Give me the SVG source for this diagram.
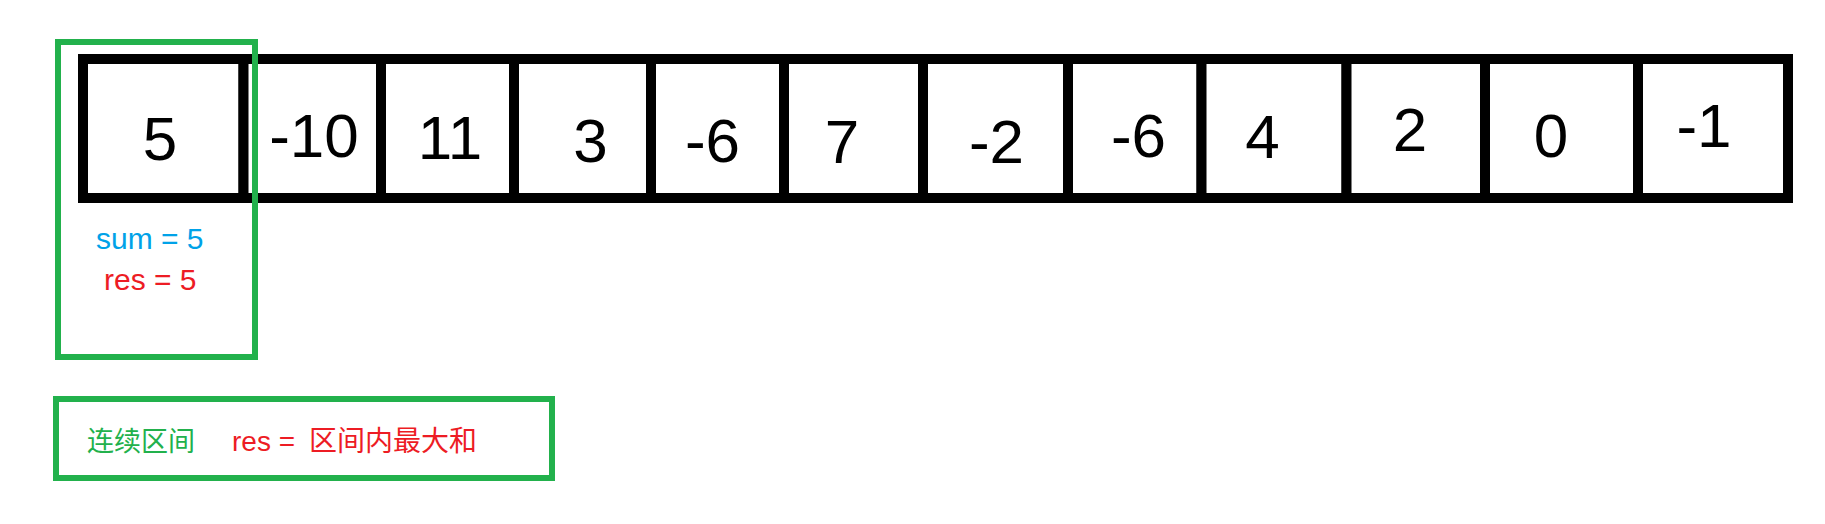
<svg xmlns="http://www.w3.org/2000/svg" width="1825" height="524" viewBox="0 0 1825 524">
<style>
.cell{fill:#fff;stroke:#000;stroke-width:10}
.num{font-family:"Liberation Sans",Arial,sans-serif;font-size:62px;fill:#000;text-anchor:middle}
.box{fill:none;stroke:#22B14C;stroke-width:6}
.lbl{font-family:"Liberation Sans","Noto Sans CJK SC",sans-serif}
</style>
<rect width="1825" height="524" fill="#fff"/>
<g id="array">
<g id="cell0"><rect class="cell" x="83" y="59" width="160.5" height="139"/><text class="num" x="160" y="160">5</text></g>
<g id="cell1"><rect class="cell" x="243.5" y="59" width="137.5" height="139"/><text class="num" x="314" y="157">-10</text></g>
<g id="cell2"><rect class="cell" x="381" y="59" width="133" height="139"/><text class="num" x="450" y="159">11</text></g>
<g id="cell3"><rect class="cell" x="514" y="59" width="137" height="139"/><text class="num" x="590.5" y="162">3</text></g>
<g id="cell4"><rect class="cell" x="651" y="59" width="133" height="139"/><text class="num" x="712.5" y="162">-6</text></g>
<g id="cell5"><rect class="cell" x="784" y="59" width="139" height="139"/><text class="num" x="842" y="163">7</text></g>
<g id="cell6"><rect class="cell" x="923" y="59" width="145" height="139"/><text class="num" x="996.5" y="163">-2</text></g>
<g id="cell7"><rect class="cell" x="1068" y="59" width="133.5" height="139"/><text class="num" x="1138.5" y="157">-6</text></g>
<g id="cell8"><rect class="cell" x="1201.5" y="59" width="145" height="139"/><text class="num" x="1262.5" y="158">4</text></g>
<g id="cell9"><rect class="cell" x="1346.5" y="59" width="138.5" height="139"/><text class="num" x="1410" y="151">2</text></g>
<g id="cell10"><rect class="cell" x="1485" y="59" width="153" height="139"/><text class="num" x="1551" y="157">0</text></g>
<g id="cell11"><rect class="cell" x="1638" y="59" width="150" height="139"/><text class="num" x="1704" y="147">-1</text></g>
</g>
<g id="window">
<rect class="box" x="58" y="42" width="197" height="315"/>
<text class="lbl" x="96" y="249" font-size="30" fill="#00A2E8">sum = 5</text>
<text class="lbl" x="104" y="290" font-size="30" fill="#ED1C24">res = 5</text>
</g>
<g id="legend">
<rect class="box" x="56" y="399" width="496" height="79"/>
<text class="lbl" x="87" y="451" font-size="27" fill="#22B14C">连续区间</text>
<text class="lbl" x="232" y="451" font-size="28" fill="#ED1C24">res = <tspan x="309">区间内最大和</tspan></text>
</g>
<g id="connectors"/>
</svg>
